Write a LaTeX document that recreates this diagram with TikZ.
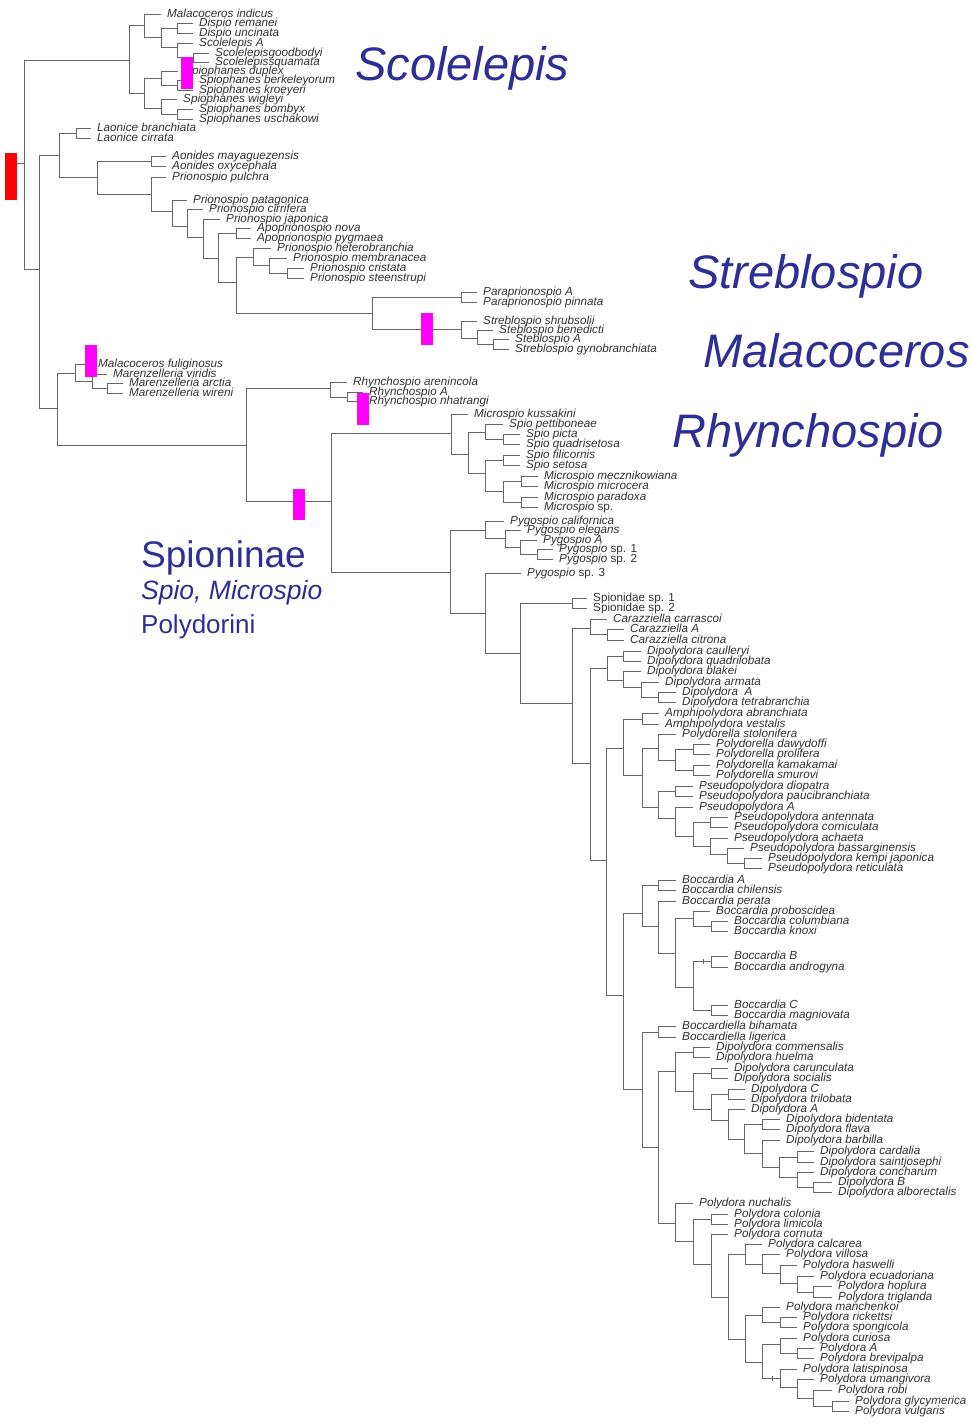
\documentclass[tikz,border=0pt]{standalone}
\usepackage{fontspec}
\setmainfont{Liberation Sans}
\definecolor{brc}{HTML}{666666}
\definecolor{lab}{HTML}{333333}
\definecolor{bigc}{HTML}{2E2E96}
\definecolor{mag}{HTML}{FF00FF}
\begin{document}
\begin{tikzpicture}[x=1pt,y=-1pt,
  leaf/.style={anchor=west, inner xsep=6pt, inner ysep=0pt, xshift=-6pt, text height=9pt, text depth=2pt, font=\fontsize{11.7}{12}\selectfont\itshape, text=lab},
  biglab/.style={anchor=base west, inner sep=0pt, text=bigc},
  brline/.style={draw=brc, line width=1.0pt},
  bar/.style={fill=#1, draw=none, inner sep=0pt, minimum width=12pt}]
\useasboundingbox (0,0) rectangle (971,1425);
\fill[white] (0,0) rectangle (971,1425);
% internal nodes
\coordinate (root) at (24,163);
\coordinate (nA) at (129,60);
\coordinate (nA1) at (144,25);
\coordinate (nA11) at (161,37);
\coordinate (nDis) at (177,28);
\coordinate (nScA) at (177,47);
\coordinate (nScB) at (193,57);
\coordinate (nA2) at (144,93);
\coordinate (nSp1) at (161,78);
\coordinate (nSp11) at (177,85);
\coordinate (nSp2) at (161,108);
\coordinate (nSp21) at (177,114);
\coordinate (nB) at (39,269);
\coordinate (nB1) at (59,155);
\coordinate (nLao) at (76,133);
\coordinate (nAP) at (97,177);
\coordinate (nAon) at (151,161);
\coordinate (nPr) at (151,194);
\coordinate (nPr1) at (172,211);
\coordinate (nPr2) at (187,226);
\coordinate (nPr3) at (203,237);
\coordinate (nPr4) at (218,258);
\coordinate (nApo) at (236,233);
\coordinate (nPr5) at (236,282);
\coordinate (nPh) at (253,257);
\coordinate (nPm) at (269,265);
\coordinate (nPc) at (287,273);
\coordinate (nPara) at (372,313);
\coordinate (nParaA) at (461,297);
\coordinate (nSt) at (461,329);
\coordinate (nSt2) at (477,338);
\coordinate (nSt3) at (493,344);
\coordinate (nC) at (57,408);
\coordinate (nMar) at (75,373);
\coordinate (nMar2) at (92,381);
\coordinate (nMar3) at (107,388);
\coordinate (nRhy) at (246,445);
\coordinate (nRh1) at (330,388);
\coordinate (nRh2) at (347,397);
\coordinate (nSpio) at (331,501);
\coordinate (nMic) at (451,433);
\coordinate (nMic2) at (468,454);
\coordinate (nSpA) at (485,432);
\coordinate (nSpB) at (503,439);
\coordinate (nSpC) at (485,473);
\coordinate (nSpD) at (503,460);
\coordinate (nMi) at (503,491);
\coordinate (nMi1) at (521,481);
\coordinate (nMi2) at (521,502);
\coordinate (nPy) at (450,572);
\coordinate (nPy1) at (485,530);
\coordinate (nPy2) at (505,538);
\coordinate (nPy3) at (520,547);
\coordinate (nPy4) at (537,554);
\coordinate (nPy5) at (485,613);
\coordinate (nPoly) at (520,653);
\coordinate (nSpn) at (572,603);
\coordinate (nPoly2) at (572,703);
\coordinate (nCar) at (590,628);
\coordinate (nCar2) at (607,634);
\coordinate (nX) at (590,763);
\coordinate (nDip) at (607,668);
\coordinate (nD1) at (623,656);
\coordinate (nD2) at (623,680);
\coordinate (nD3) at (641,687);
\coordinate (nD4) at (658,697);
\coordinate (nY) at (606,860);
\coordinate (nAmph) at (623,748);
\coordinate (nAm) at (642,719);
\coordinate (nPd) at (642,775);
\coordinate (nPl) at (658,748);
\coordinate (nPl2) at (675,760);
\coordinate (nPl3) at (693,749);
\coordinate (nPl4) at (693,770);
\coordinate (nPs) at (658,807);
\coordinate (nPs1) at (675,791);
\coordinate (nPs2) at (675,818);
\coordinate (nPs3) at (693,836);
\coordinate (nPs4) at (710,822);
\coordinate (nPs5) at (710,846);
\coordinate (nPs6) at (727,854);
\coordinate (nPs7) at (744,863);
\coordinate (nBoc) at (623,995);
\coordinate (nBo1) at (642,913);
\coordinate (nBoA) at (658,885);
\coordinate (nBo2) at (658,926);
\coordinate (nBo3) at (675,953);
\coordinate (nBo4) at (693,918);
\coordinate (nBo5) at (711,926);
\coordinate (nBo6) at (693,987);
\coordinate (nBoB) at (711,961);
\coordinate (nBoC) at (711,1010);
\coordinate (nBd) at (642,1089);
\coordinate (nBb) at (658,1032);
\coordinate (nDP) at (658,1147);
\coordinate (nDd) at (675,1071);
\coordinate (nDd1) at (693,1052);
\coordinate (nDd2) at (693,1091);
\coordinate (nDd3) at (711,1073);
\coordinate (nDd4) at (711,1109);
\coordinate (nDd5) at (728,1094);
\coordinate (nDd6) at (728,1120);
\coordinate (nDd7) at (744,1139);
\coordinate (nDd8) at (762,1124);
\coordinate (nDd9) at (762,1153);
\coordinate (nDd10) at (779,1167);
\coordinate (nDd11) at (797,1157);
\coordinate (nDd12) at (797,1177);
\coordinate (nDd13) at (813,1187);
\coordinate (nPo) at (675,1223);
\coordinate (nPo1) at (693,1241);
\coordinate (nPo2) at (711,1219);
\coordinate (nPo3) at (711,1264);
\coordinate (nPo4) at (728,1297);
\coordinate (nPo5) at (745,1254);
\coordinate (nPo6) at (762,1264);
\coordinate (nPo7) at (780,1273);
\coordinate (nPo8) at (797,1283);
\coordinate (nPo9) at (813,1292);
\coordinate (nPo10) at (745,1339);
\coordinate (nPo11) at (762,1315);
\coordinate (nPo12) at (780,1322);
\coordinate (nPo13) at (762,1362);
\coordinate (nPo14) at (780,1344);
\coordinate (nPo15) at (797,1353);
\coordinate (nPo16) at (780,1378);
\coordinate (nPo17) at (797,1387);
\coordinate (nPo18) at (813,1398);
\coordinate (nPo19) at (832,1406);
% leaves
\node[leaf] (l1) at (167,14) {Malacoceros indicus};
\node[leaf] (l2) at (199,23) {Dispio remanei};
\node[leaf] (l3) at (199,33) {Dispio uncinata};
\node[leaf] (l4) at (199,43) {Scolelepis A};
\node[leaf] (l5) at (215,53) {Scolelepisgoodbodyi};
\node[leaf] (l6) at (215,62) {Scolelepissquamata};
\node[leaf] (l7) at (184,71) {Spiophanes duplex};
\node[leaf] (l8) at (199,80) {Spiophanes berkeleyorum};
\node[leaf] (l9) at (199,90) {Spiophanes kroeyeri};
\node[leaf] (l10) at (183,99) {Spiophanes wigleyi};
\node[leaf] (l11) at (199,109) {Spiophanes bombyx};
\node[leaf] (l12) at (199,119) {Spiophanes uschakowi};
\node[leaf] (l13) at (97,128) {Laonice branchiata};
\node[leaf] (l14) at (97,138) {Laonice cirrata};
\node[leaf] (l15) at (172,156) {Aonides mayaguezensis};
\node[leaf] (l16) at (172,166) {Aonides oxycephala};
\node[leaf] (l17) at (172,177) {Prionospio pulchra};
\node[leaf] (l18) at (193,200) {Prionospio patagonica};
\node[leaf] (l19) at (209,209) {Prionospio cirrifera};
\node[leaf] (l20) at (226,219) {Prionospio japonica};
\node[leaf] (l21) at (257,228) {Apoprionospio nova};
\node[leaf] (l22) at (257,238) {Apoprionospio pygmaea};
\node[leaf] (l23) at (277,248) {Prionospio heterobranchia};
\node[leaf] (l24) at (293,258) {Prionospio membranacea};
\node[leaf] (l25) at (310,268) {Prionospio cristata};
\node[leaf] (l26) at (310,278) {Prionospio steenstrupi};
\node[leaf] (l27) at (483,292) {Paraprionospio A};
\node[leaf] (l28) at (483,302) {Paraprionospio pinnata};
\node[leaf] (l29) at (483,321) {Streblospio shrubsolii};
\node[leaf] (l30) at (499,330) {Steblospio benedicti};
\node[leaf] (l31) at (515,339) {Steblospio A};
\node[leaf] (l32) at (515,349) {Streblospio gynobranchiata};
\node[leaf] (l33) at (98,364) {Malacoceros fuliginosus};
\node[leaf] (l34) at (113,374) {Marenzelleria viridis};
\node[leaf] (l35) at (129,383) {Marenzelleria arctia};
\node[leaf] (l36) at (129,393) {Marenzelleria wireni};
\node[leaf] (l37) at (353,382) {Rhynchospio arenincola};
\node[leaf] (l38) at (369,392) {Rhynchospio A};
\node[leaf] (l39) at (369,401) {Rhynchospio nhatrangi};
\node[leaf] (l40) at (474,414) {Microspio kussakini};
\node[leaf] (l41) at (509,424) {Spio pettiboneae};
\node[leaf] (l42) at (526,434) {Spio picta};
\node[leaf] (l43) at (526,444) {Spio quadrisetosa};
\node[leaf] (l44) at (526,455) {Spio filicornis};
\node[leaf] (l45) at (526,465) {Spio setosa};
\node[leaf] (l46) at (544,476) {Microspio mecznikowiana};
\node[leaf] (l47) at (544,486) {Microspio microcera};
\node[leaf] (l48) at (544,497) {Microspio paradoxa};
\node[leaf] (l49) at (544,507) {Microspio {\upshape sp.}};
\node[leaf] (l50) at (510,521) {Pygospio californica};
\node[leaf] (l51) at (527,530) {Pygospio elegans};
\node[leaf] (l52) at (543,540) {Pygospio A};
\node[leaf] (l53) at (559,549) {Pygospio {\upshape sp. 1}};
\node[leaf] (l54) at (559,559) {Pygospio {\upshape sp. 2}};
\node[leaf] (l55) at (527,573) {Pygospio {\upshape sp. 3}};
\node[leaf] (l56) at (593,598) {\upshape Spionidae sp. 1};
\node[leaf] (l57) at (593,608) {\upshape Spionidae sp. 2};
\node[leaf] (l58) at (613,619) {Carazziella carrascoi};
\node[leaf] (l59) at (630,629) {Carazziella A};
\node[leaf] (l60) at (630,640) {Carazziella citrona};
\node[leaf] (l61) at (647,651) {Dipolydora caulleryi};
\node[leaf] (l62) at (647,661) {Dipolydora quadrilobata};
\node[leaf] (l63) at (647,671) {Dipolydora blakei};
\node[leaf] (l64) at (665,682) {Dipolydora armata};
\node[leaf] (l65) at (682,692) {Dipolydora\ \ A};
\node[leaf] (l66) at (682,702) {Dipolydora tetrabranchia};
\node[leaf] (l67) at (665,713) {Amphipolydora abranchiata};
\node[leaf] (l68) at (665,724) {Amphipolydora vestalis};
\node[leaf] (l69) at (682,734) {Polydorella stolonifera};
\node[leaf] (l70) at (716,744) {Polydorella dawydoffi};
\node[leaf] (l71) at (716,754) {Polydorella prolifera};
\node[leaf] (l72) at (716,765) {Polydorella kamakamai};
\node[leaf] (l73) at (716,775) {Polydorella smurovi};
\node[leaf] (l74) at (699,786) {Pseudopolydora diopatra};
\node[leaf] (l75) at (699,796) {Pseudopolydora paucibranchiata};
\node[leaf] (l76) at (699,807) {Pseudopolydora A};
\node[leaf] (l77) at (734,817) {Pseudopolydora antennata};
\node[leaf] (l78) at (734,827) {Pseudopolydora corniculata};
\node[leaf] (l79) at (734,838) {Pseudopolydora achaeta};
\node[leaf] (l80) at (750,848) {Pseudopolydora bassarginensis};
\node[leaf] (l81) at (768,858) {Pseudopolydora kempi japonica};
\node[leaf] (l82) at (768,868) {Pseudopolydora reticulata};
\node[leaf] (l83) at (682,880) {Boccardia A};
\node[leaf] (l84) at (682,890) {Boccardia chilensis};
\node[leaf] (l85) at (682,901) {Boccardia perata};
\node[leaf] (l86) at (716,911) {Boccardia proboscidea};
\node[leaf] (l87) at (734,921) {Boccardia columbiana};
\node[leaf] (l88) at (734,931) {Boccardia knoxi};
\node[leaf] (l89) at (734,956) {Boccardia B};
\node[leaf] (l90) at (734,967) {Boccardia androgyna};
\node[leaf] (l91) at (734,1005) {Boccardia C};
\node[leaf] (l92) at (734,1015) {Boccardia magniovata};
\node[leaf] (l93) at (682,1026) {Boccardiella bihamata};
\node[leaf] (l94) at (682,1037) {Boccardiella ligerica};
\node[leaf] (l95) at (716,1047) {Dipolydora commensalis};
\node[leaf] (l96) at (716,1057) {Dipolydora huelma};
\node[leaf] (l97) at (734,1068) {Dipolydora carunculata};
\node[leaf] (l98) at (734,1078) {Dipolydora socialis};
\node[leaf] (l99) at (751,1089) {Dipolydora C};
\node[leaf] (l100) at (751,1099) {Dipolydora trilobata};
\node[leaf] (l101) at (751,1109) {Dipolydora A};
\node[leaf] (l102) at (786,1119) {Dipolydora bidentata};
\node[leaf] (l103) at (786,1129) {Dipolydora flava};
\node[leaf] (l104) at (786,1140) {Dipolydora barbilla};
\node[leaf] (l105) at (820,1151) {Dipolydora cardalia};
\node[leaf] (l106) at (820,1162) {Dipolydora saintjosephi};
\node[leaf] (l107) at (820,1172) {Dipolydora concharum};
\node[leaf] (l108) at (838,1182) {Dipolydora B};
\node[leaf] (l109) at (838,1192) {Dipolydora alborectalis};
\node[leaf] (l110) at (699,1203) {Polydora nuchalis};
\node[leaf] (l111) at (734,1214) {Polydora colonia};
\node[leaf] (l112) at (734,1224) {Polydora limicola};
\node[leaf] (l113) at (734,1234) {Polydora cornuta};
\node[leaf] (l114) at (768,1244) {Polydora calcarea};
\node[leaf] (l115) at (786,1254) {Polydora villosa};
\node[leaf] (l116) at (803,1265) {Polydora haswelli};
\node[leaf] (l117) at (820,1276) {Polydora ecuadoriana};
\node[leaf] (l118) at (838,1286) {Polydora hoplura};
\node[leaf] (l119) at (838,1297) {Polydora triglanda};
\node[leaf] (l120) at (786,1307) {Polydora manchenkoi};
\node[leaf] (l121) at (803,1317) {Polydora rickettsi};
\node[leaf] (l122) at (803,1327) {Polydora spongicola};
\node[leaf] (l123) at (803,1338) {Polydora curiosa};
\node[leaf] (l124) at (820,1348) {Polydora A};
\node[leaf] (l125) at (820,1358) {Polydora brevipalpa};
\node[leaf] (l126) at (803,1369) {Polydora latispinosa};
\node[leaf] (l127) at (820,1379) {Polydora umangivora};
\node[leaf] (l128) at (838,1390) {Polydora robi};
\node[leaf] (l129) at (855,1401) {Polydora glycymerica};
\node[leaf] (l130) at (855,1411) {Polydora vulgaris};
% internal branches
\foreach \p/\c in {root/nA, root/nB, nA/nA1, nA/nA2, nA1/nA11, nA11/nDis, nA11/nScA, nScA/nScB, nA2/nSp1, nA2/nSp2, nSp1/nSp11, nSp2/nSp21,
 nB/nB1, nB/nC, nB1/nLao, nB1/nAP, nAP/nAon, nAP/nPr, nPr/nPr1, nPr1/nPr2, nPr2/nPr3, nPr3/nPr4, nPr4/nApo, nPr4/nPr5, nPr5/nPh, nPr5/nPara, nPh/nPm, nPm/nPc, nPara/nParaA, nPara/nSt, nSt/nSt2, nSt2/nSt3,
 nC/nMar, nC/nRhy, nMar/nMar2, nMar2/nMar3, nRhy/nRh1, nRhy/nSpio, nRh1/nRh2, nSpio/nMic, nSpio/nPy, nMic/nMic2, nMic2/nSpA, nMic2/nSpC, nSpA/nSpB, nSpC/nSpD, nSpC/nMi, nMi/nMi1, nMi/nMi2, nPy/nPy1, nPy/nPy5, nPy1/nPy2, nPy2/nPy3, nPy3/nPy4, nPy5/nPoly, nPoly/nSpn, nPoly/nPoly2, nPoly2/nCar, nPoly2/nX, nCar/nCar2, nX/nDip, nX/nY, nDip/nD1, nDip/nD2, nD2/nD3, nD3/nD4, nY/nAmph, nY/nBoc, nAmph/nAm, nAmph/nPd, nPd/nPl, nPd/nPs, nPl/nPl2, nPl2/nPl3, nPl2/nPl4, nPs/nPs1, nPs/nPs2, nPs2/nPs3, nPs3/nPs4, nPs3/nPs5, nPs5/nPs6, nPs6/nPs7, nBoc/nBo1, nBoc/nBd, nBo1/nBoA, nBo1/nBo2, nBo2/nBo3, nBo3/nBo4, nBo3/nBo6, nBo4/nBo5, nBo6/nBoB, nBo6/nBoC, nBd/nBb, nBd/nDP, nDP/nDd, nDP/nPo, nDd/nDd1, nDd/nDd2, nDd2/nDd3, nDd2/nDd4, nDd4/nDd5, nDd4/nDd6, nDd6/nDd7, nDd7/nDd8, nDd7/nDd9, nDd9/nDd10, nDd10/nDd11, nDd10/nDd12, nDd12/nDd13, nPo/nPo1, nPo1/nPo2, nPo1/nPo3, nPo3/nPo4, nPo4/nPo5, nPo4/nPo10, nPo5/nPo6, nPo6/nPo7, nPo7/nPo8, nPo8/nPo9, nPo10/nPo11, nPo10/nPo13, nPo11/nPo12, nPo13/nPo14, nPo13/nPo16, nPo14/nPo15, nPo16/nPo17, nPo17/nPo18, nPo18/nPo19}
  \draw[brline] (\p) |- (\c);
% leaf branches
\foreach \p/\c in {nA1/l1, nDis/l2, nDis/l3, nScA/l4, nScB/l5, nScB/l6, nSp1/l7, nSp11/l8, nSp11/l9, nSp2/l10, nSp21/l11, nSp21/l12,
 nLao/l13, nLao/l14, nAon/l15, nAon/l16, nPr/l17, nPr1/l18, nPr2/l19, nPr3/l20, nApo/l21, nApo/l22, nPh/l23, nPm/l24, nPc/l25, nPc/l26, nParaA/l27, nParaA/l28, nSt/l29, nSt2/l30, nSt3/l31, nSt3/l32,
 nMar/l33, nMar2/l34, nMar3/l35, nMar3/l36, nRh1/l37, nRh2/l38, nRh2/l39, nMic/l40, nSpA/l41, nSpB/l42, nSpB/l43, nSpD/l44, nSpD/l45, nMi1/l46, nMi1/l47, nMi2/l48, nMi2/l49, nPy1/l50, nPy2/l51, nPy3/l52, nPy4/l53, nPy4/l54, nPy5/l55, nSpn/l56, nSpn/l57, nCar/l58, nCar2/l59, nCar2/l60, nD1/l61, nD1/l62, nD2/l63, nD3/l64, nD4/l65, nD4/l66, nAm/l67, nAm/l68, nPl/l69, nPl3/l70, nPl3/l71, nPl4/l72, nPl4/l73, nPs1/l74, nPs1/l75, nPs2/l76, nPs4/l77, nPs4/l78, nPs5/l79, nPs6/l80, nPs7/l81, nPs7/l82, nBoA/l83, nBoA/l84, nBo2/l85, nBo4/l86, nBo5/l87, nBo5/l88, nBoB/l89, nBoB/l90, nBoC/l91, nBoC/l92, nBb/l93, nBb/l94, nDd1/l95, nDd1/l96, nDd3/l97, nDd3/l98, nDd5/l99, nDd5/l100, nDd6/l101, nDd8/l102, nDd8/l103, nDd9/l104, nDd11/l105, nDd11/l106, nDd12/l107, nDd13/l108, nDd13/l109, nPo/l110, nPo2/l111, nPo2/l112, nPo3/l113, nPo5/l114, nPo6/l115, nPo7/l116, nPo8/l117, nPo9/l118, nPo9/l119, nPo11/l120, nPo12/l121, nPo12/l122, nPo14/l123, nPo15/l124, nPo15/l125, nPo16/l126, nPo17/l127, nPo18/l128, nPo19/l129, nPo19/l130}
  \draw[brline] (\p) |- (\c.west);
% small ticks
\coordinate (tk1) at (703,961);
\coordinate (tk2) at (772,1378);
\draw[brline, line width=0.8pt] ([yshift=2.5pt]tk1) -- ([yshift=-2.5pt]tk1);
\draw[brline, line width=0.8pt] ([yshift=2.5pt]tk2) -- ([yshift=-2.5pt]tk2);
% bars
\node[bar=red, minimum height=47pt] (rootbar) at (11,176.5) {};
\draw[brline] (rootbar.east |- root) -- (root);
\node[bar=mag, minimum height=32pt] (m1) at (187,73) {};
\node[bar=mag, minimum height=32pt] (m2) at (427,329) {};
\node[bar=mag, minimum height=32pt] (m3) at (91,361) {};
\node[bar=mag, minimum height=32pt] (m4) at (363,409) {};
\node[bar=mag, minimum height=31pt] (m5) at (299,504.5) {};
% big labels
\node[biglab, font=\fontsize{47}{50}\selectfont\itshape] (tScol) at (355,80) {Scolelepis};
\node[biglab, font=\fontsize{47}{50}\selectfont\itshape] (tStreb) at (688,288) {Streblospio};
\node[biglab, font=\fontsize{47}{50}\selectfont\itshape] (tMala) at (703,367) {Malacoceros};
\node[biglab, font=\fontsize{47}{50}\selectfont\itshape] (tRhyn) at (672,447) {Rhynchospio};
\node[biglab, font=\fontsize{37}{40}\selectfont] (tSpin) at (141,567) {Spioninae};
\node[biglab, font=\fontsize{26.5}{28}\selectfont\itshape] (tSpio) at (141,599) {Spio, Microspio};
\node[biglab, font=\fontsize{26}{28}\selectfont] (tPoly) at (141,633) {Polydorini};
\end{tikzpicture}
\end{document}
